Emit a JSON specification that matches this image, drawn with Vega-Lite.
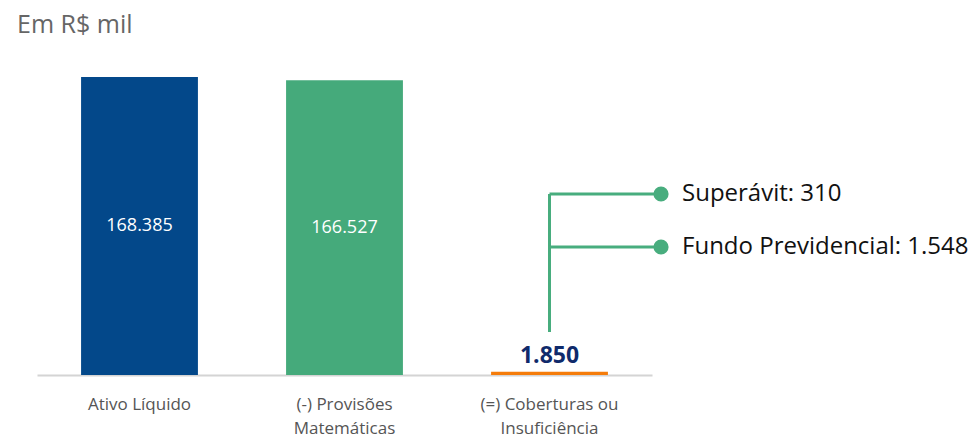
{
  "$schema": "https://vega.github.io/schema/vega-lite/v6.json",
  "width": 615,
  "height": 315,
  "autosize": {"type": "none"},
  "padding": {"left": 37, "top": 60, "right": 321, "bottom": 64},
  "background": "white",
  "config": {
    "view": {"stroke": null},
    "font": "Open Sans"
  },
  "title": {
    "text": "Em R$ mil",
    "anchor": "start",
    "frame": "group",
    "dx": -20,
    "offset": 2,
    "baseline": "alphabetic",
    "fontSize": 25,
    "fontWeight": "normal",
    "color": "#666666",
    "font": "Open Sans"
  },
  "datasets": {
    "bars": [
      {"cat": "Ativo Líquido", "value": 168385, "label": "168.385", "pos": "inside"},
      {"cat": "(-) Provisões Matemáticas", "value": 166527, "label": "166.527", "pos": "inside"},
      {"cat": "(=) Coberturas ou Insuficiência", "value": 1850, "label": "1.850", "pos": "top"}
    ],
    "segs": [
      {"x": 2.5, "x2": 2.5, "y": 24300, "y2": 102280},
      {"x": 2.5, "x2": 3.044, "y": 102280, "y2": 102280},
      {"x": 2.5, "x2": 3.044, "y": 72330, "y2": 72330}
    ],
    "pts": [
      {"x": 3.044, "y": 102280, "label": "Superávit: 310"},
      {"x": 3.044, "y": 72330, "label": "Fundo Previdencial: 1.548"}
    ]
  },
  "layer": [
    {
      "data": {"name": "bars"},
      "mark": {"type": "bar"},
      "encoding": {
        "x": {
          "field": "cat",
          "type": "nominal",
          "sort": null,
          "scale": {"domain": ["Ativo Líquido", "(-) Provisões Matemáticas", "(=) Coberturas ou Insuficiência"], "paddingInner": 0.43, "paddingOuter": 0.215},
          "axis": {
            "title": null,
            "labelAngle": 0,
            "ticks": false,
            "labelPadding": 21,
            "labelFontSize": 17,
            "labelColor": "#555555",
            "labelFont": "Open Sans",
            "labelLineHeight": 24,
            "domainColor": "#d4d4d4",
            "domainWidth": 2,
            "labelExpr": "datum.value == '(-) Provisões Matemáticas' ? ['(-) Provisões', 'Matemáticas'] : datum.value == '(=) Coberturas ou Insuficiência' ? ['(=) Coberturas ou', 'Insuficiência'] : datum.label"
          }
        },
        "y": {
          "field": "value",
          "type": "quantitative",
          "scale": {"domain": [0, 178000], "nice": false},
          "axis": null
        },
        "color": {
          "field": "cat",
          "type": "nominal",
          "scale": {"domain": ["Ativo Líquido", "(-) Provisões Matemáticas", "(=) Coberturas ou Insuficiência"], "range": ["#03488a", "#45aa7b", "#f57c0a"]},
          "legend": null
        }
      }
    },
    {
      "data": {"name": "bars"},
      "transform": [{"filter": "datum.pos == 'inside'"}],
      "mark": {"type": "text", "color": "white", "fontSize": 18, "baseline": "middle", "font": "Open Sans"},
      "encoding": {
        "x": {
          "field": "cat",
          "type": "nominal",
          "scale": {"domain": ["Ativo Líquido", "(-) Provisões Matemáticas", "(=) Coberturas ou Insuficiência"], "paddingInner": 0.43, "paddingOuter": 0.215},
          "axis": null
        },
        "y": {
          "field": "value",
          "type": "quantitative",
          "scale": {"domain": [0, 356000], "nice": false},
          "axis": null
        },
        "text": {"field": "label"}
      }
    },
    {
      "data": {"name": "bars"},
      "transform": [{"filter": "datum.pos == 'top'"}],
      "mark": {"type": "text", "color": "#0f2a6b", "fontSize": 23, "fontWeight": "bold", "baseline": "alphabetic", "dy": -9, "font": "Open Sans"},
      "encoding": {
        "x": {
          "field": "cat",
          "type": "nominal",
          "scale": {"domain": ["Ativo Líquido", "(-) Provisões Matemáticas", "(=) Coberturas ou Insuficiência"], "paddingInner": 0.43, "paddingOuter": 0.215},
          "axis": null
        },
        "y": {
          "field": "value",
          "type": "quantitative",
          "scale": {"domain": [0, 178000], "nice": false},
          "axis": null
        },
        "text": {"field": "label"}
      }
    },
    {
      "data": {"name": "segs"},
      "mark": {"type": "rule", "color": "#48ad7e", "strokeWidth": 3},
      "encoding": {
        "x": {"field": "x", "type": "quantitative", "scale": {"domain": [0, 3], "nice": false, "zero": false}, "axis": null},
        "x2": {"field": "x2"},
        "y": {"field": "y", "type": "quantitative", "scale": {"domain": [0, 178000], "nice": false}, "axis": null},
        "y2": {"field": "y2"}
      }
    },
    {
      "data": {"name": "pts"},
      "mark": {"type": "circle", "color": "#48ad7e", "opacity": 1, "size": 230},
      "encoding": {
        "x": {"field": "x", "type": "quantitative", "scale": {"domain": [0, 3], "nice": false, "zero": false}, "axis": null},
        "y": {"field": "y", "type": "quantitative", "scale": {"domain": [0, 178000], "nice": false}, "axis": null}
      }
    },
    {
      "data": {"name": "pts"},
      "mark": {"type": "text", "align": "left", "baseline": "middle", "dx": 21, "fontSize": 24, "color": "#111111", "font": "Open Sans"},
      "encoding": {
        "x": {"field": "x", "type": "quantitative", "scale": {"domain": [0, 3], "nice": false, "zero": false}, "axis": null},
        "y": {"field": "y", "type": "quantitative", "scale": {"domain": [0, 178000], "nice": false}, "axis": null},
        "text": {"field": "label"}
      }
    }
  ],
  "resolve": {"scale": {"x": "independent", "y": "independent", "color": "independent"}}
}
